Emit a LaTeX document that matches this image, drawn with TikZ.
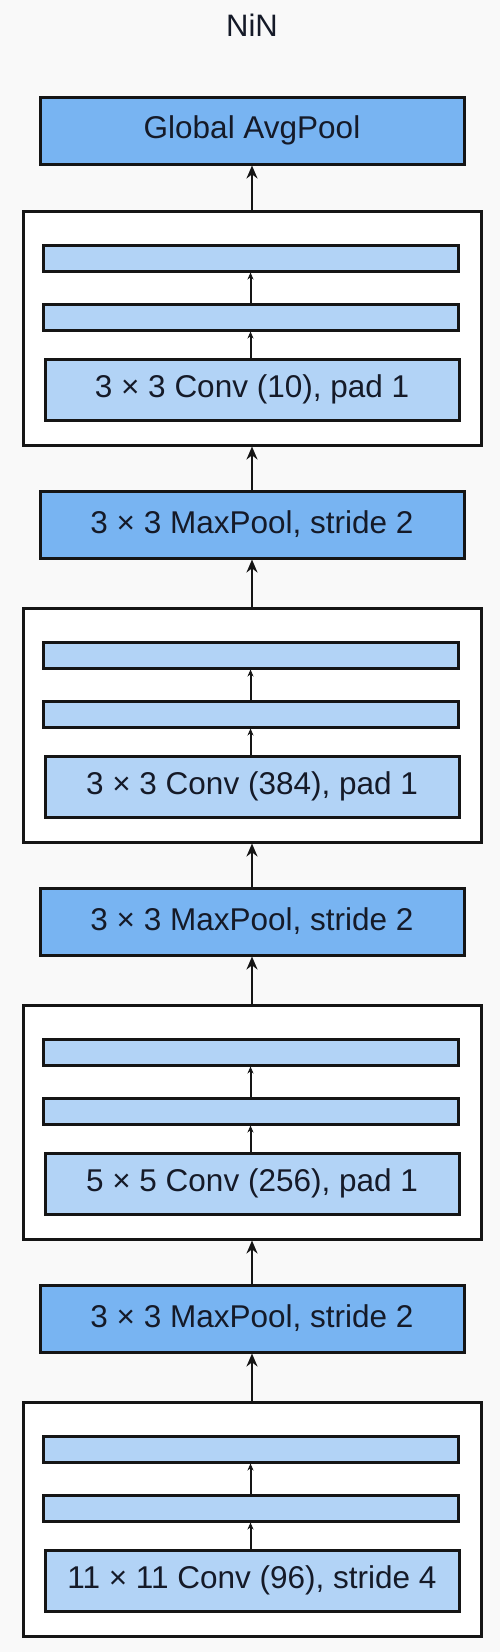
\documentclass[tikz,border=0pt]{standalone}
\usepackage{fontspec}
\setmainfont{Liberation Sans}
\usetikzlibrary{arrows.meta}
\definecolor{bgcol}{HTML}{F9F9F9}
\definecolor{darkblue}{HTML}{78B4F2}
\definecolor{lightblue}{HTML}{B2D3F6}
\definecolor{txtcol}{HTML}{151A28}
\definecolor{edgecol}{HTML}{151515}
\tikzset{
  layerbox/.style={draw=edgecol, line width=3pt, fill=darkblue, minimum width=424pt, minimum height=67pt, inner sep=0pt, text=txtcol, font=\fontsize{31.5}{36}\selectfont},
  convbox/.style={draw=edgecol, line width=3pt, fill=lightblue, minimum width=414pt, minimum height=61pt, inner sep=0pt, text=txtcol, font=\fontsize{31.5}{36}\selectfont},
  barbox/.style={draw=edgecol, line width=3pt, fill=lightblue, minimum width=415pt, minimum height=26pt, inner sep=0pt},
  outerbox/.style={draw=edgecol, line width=3pt, fill=white, minimum width=458pt, minimum height=234pt, inner sep=0pt},
  bigarrow/.style={draw=edgecol, line width=2.8pt, -{Stealth[length=13pt,width=11pt]}},
  smallarrow/.style={draw=edgecol, line width=2pt, -{Stealth[length=7pt,width=6pt]}},
}
\newcommand{\tms}{ \texttimes{} }
\begin{document}
\begin{tikzpicture}[x=1pt,y=-1pt]
\fill[bgcol] (0,0) rectangle (500,1652);
\useasboundingbox (0,0) rectangle (500,1652);
\node[text=txtcol, font=\fontsize{31}{36}\selectfont] (title) at (252,25) {NiN};
\node[layerbox] (avg) at (252,130.5) {Global AvgPool};
\foreach \k/\lab in {0/{3\tms 3 Conv (10), pad 1},1/{3\tms 3 Conv (384), pad 1},2/{5\tms 5 Conv (256), pad 1},3/{11\tms 11 Conv (96), stride 4}}{
  \pgfmathsetmacro{\T}{211+397*\k}
  \node[outerbox] (o\k) at (252,\T+117) {};
  \node[barbox] (ba\k) at (250.5,\T+47) {};
  \node[barbox] (bb\k) at (250.5,\T+106) {};
  \node[convbox] (c\k) at (252,\T+178.5) {\lab};
  \draw[smallarrow] (c\k.north -| bb\k.south) -- (bb\k.south);
  \draw[smallarrow] (bb\k.north) -- (ba\k.south);
}
\foreach \k in {0,1,2}{
  \pgfmathsetmacro{\T}{211+397*\k}
  \node[layerbox] (m\k) at (252,\T+313.5) {3\tms 3 MaxPool, stride 2};
}
\draw[bigarrow] (o0.north) -- (avg.south);
\draw[bigarrow] (m0.north) -- (o0.south);
\draw[bigarrow] (o1.north) -- (m0.south);
\draw[bigarrow] (m1.north) -- (o1.south);
\draw[bigarrow] (o2.north) -- (m1.south);
\draw[bigarrow] (m2.north) -- (o2.south);
\draw[bigarrow] (o3.north) -- (m2.south);
\end{tikzpicture}
\end{document}
